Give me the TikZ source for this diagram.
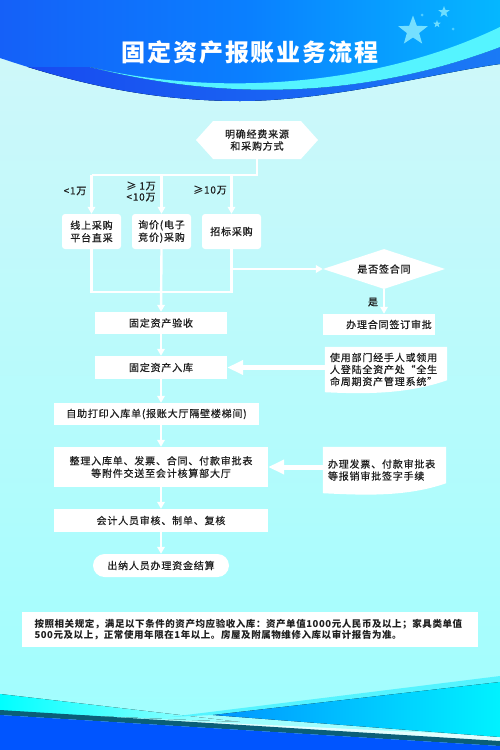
\documentclass[tikz,border=0pt]{standalone}
\usepackage{fontspec}
\newfontfamily\cjk[LetterSpace=8,FakeBold=0.5]{Noto Sans CJK SC}
\newfontfamily\cjkt[LetterSpace=8]{Noto Sans CJK SC}
\newfontfamily\cjkn[LetterSpace=6]{Noto Sans CJK SC}
\usetikzlibrary{shapes.geometric,shapes.symbols,arrows.meta}
\definecolor{txt}{HTML}{1E1E1E}
\definecolor{hA}{HTML}{2040F0}
\definecolor{hB}{HTML}{0A80FF}
\definecolor{hC}{HTML}{00EEFF}
\definecolor{bgT}{HTML}{D2F7F9}
\definecolor{bgB}{HTML}{9FFEFE}
\definecolor{swl}{HTML}{55F4FF}
\definecolor{bandL}{HTML}{1848F0}
\definecolor{bandR}{HTML}{1A7AF5}
\definecolor{starc}{HTML}{9AF4FF}
\definecolor{deepblue}{HTML}{0055FF}
\definecolor{teal}{HTML}{0A5F78}
\definecolor{cyanL}{HTML}{00FFFF}
\definecolor{cyanF}{HTML}{B0FFFF}
\definecolor{triL}{HTML}{0094FF}
\definecolor{triR}{HTML}{00F2FF}
\pgfdeclarehorizontalshading{hdr}{100bp}{color(0bp)=(hA); color(50bp)=(hB); color(100bp)=(hC)}
\pgfdeclarelayer{bg}
\pgfdeclarelayer{shp}
\pgfsetlayers{bg,shp,main}
\begin{document}
\begin{tikzpicture}[x=1pt,y=-1pt,
  boxs/.style={fill=white, text=txt, font=\cjk\fontsize{10}{12.5}\selectfont, align=center, inner sep=0pt},
  rboxs/.style={boxs, rounded corners=3pt},
  docs/.style={text=txt, font=\cjk\fontsize{10}{12}\selectfont, align=left, inner sep=0pt},
  lin/.style={draw=white, line width=2.4pt},
  arr/.style={lin, -{Triangle[width=7.5pt,length=7pt]}},
  bigarr/.style={draw=white, line width=5pt, -{Triangle[width=14pt,length=16pt]}},
  lab/.style={text=txt, font=\cjk\fontsize{10}{11}\selectfont, align=center, inner sep=0pt},
  starn/.style={star, star points=5, star point ratio=2.4, fill=starc, draw=none, inner sep=0pt}
]
\useasboundingbox (0,0) rectangle (500,750);
\begin{pgfonlayer}{bg}
  % page background
  \fill[top color=bgT, bottom color=bgB] (0,0) rectangle (500,750);
  % header
  \path[shading=hdr] (0,0) -- (500,0) -- (500,64) .. controls (440,72) and (330,101) .. (240,101) .. controls (140,101) and (60,78) .. (0,58) -- cycle;
  \begin{scope}
    \clip (0,0) -- (500,0) -- (500,64) .. controls (440,72) and (330,101) .. (240,101) .. controls (140,101) and (60,78) .. (0,58) -- cycle;
    \fill[left color=bandL, right color=bandR] (90,67) .. controls (220,100) and (360,100) .. (500,47) -- (500,120) -- (0,120) -- (0,67) -- cycle;
  \end{scope}
  \fill[swl] (90,67) .. controls (220,98) and (380,85) .. (500,27) -- (500,47) .. controls (360,100) and (220,100) .. (90,67) -- cycle;
  % bottom decoration
  \fill[left color=cyanL, right color=cyanF] (0,694) -- (240,722) -- (0,712) -- cycle;
  \fill[white, opacity=0.7] (120,718) -- (500,736) -- (500,742) -- cycle;
  \fill[swl] (170,717) -- (500,676) -- (500,683) -- (213,715) -- cycle;
  \fill[left color=triL, right color=triR] (213,715) -- (500,682) -- (500,737) -- cycle;
  \fill[teal] (0,710) -- (500,741) -- (500,746) -- (0,715) -- cycle;
  \fill[deepblue] (0,715) -- (500,746) -- (500,750) -- (0,750) -- cycle;
\end{pgfonlayer}

% stars
\node[starn, minimum size=31pt, opacity=0.75] (s1) at (413,31) {};
\node[starn, minimum size=12pt, opacity=0.7] (s2) at (444,12) {};
\node[starn, minimum size=8pt, opacity=0.7] (s3) at (437,24) {};
\node[circle, fill=starc, opacity=0.5, inner sep=0pt, minimum size=3pt] (d1) at (422,15) {};
\node[circle, fill=starc, opacity=0.5, inner sep=0pt, minimum size=3pt] (d2) at (453,29) {};

% title
\node[text=white, font=\cjkt\bfseries\fontsize{24}{26}\selectfont, inner sep=0pt] (title) at (250,52) {固定资产报账业务流程};

% hexagon
\node[boxs, signal, signal to=west and east, signal pointer angle=96, minimum width=122pt, minimum height=38pt, font=\cjk\fontsize{10}{12}\selectfont] (hex) at (257,140) {明确经费来源\\和采购方式};

% purchase boxes
\node[rboxs, minimum width=59pt, minimum height=35pt] (b1) at (91.5,231.5) {线上采购\\平台直采};
\node[rboxs, minimum width=59pt, minimum height=35pt] (b2) at (161.5,231.5) {询价(电子\\竞价)采购};
\node[rboxs, minimum width=59pt, minimum height=35pt] (b3) at (231.5,231.5) {招标采购};

% labels
\node[lab] (l1) at (75,191) {<1万};
\node[lab] (l2) at (141,191.5) {≥ 1万\\<10万};
\node[lab] (l3) at (210,190) {≥10万};

% main column
\node[boxs, minimum width=132pt, minimum height=22pt] (ys) at (161,323) {固定资产验收};
\node[boxs, minimum width=132pt, minimum height=23pt] (rk) at (161,367.5) {固定资产入库};
\node[boxs, minimum width=205pt, minimum height=22pt] (zz) at (156.5,414) {自助打印入库单(报账大厅隔壁楼梯间)};
\node[boxs, minimum width=214pt, minimum height=40pt] (zl) at (161,467) {整理入库单、发票、合同、付款审批表\\等附件交送至会计核算部大厅};
\node[boxs, minimum width=214pt, minimum height=23pt] (kj) at (161,520.5) {会计人员审核、制单、复核};
\node[boxs, rounded corners=11.5pt, minimum width=136pt, minimum height=23pt] (cn) at (161,565.5) {出纳人员办理资金结算};

% right column
\node[boxs, diamond, minimum width=122pt, minimum height=40pt, aspect=3] (dia) at (384,269) {是否签合同};
\node[lab] (yes) at (373,302) {是};
\node[boxs, minimum width=112pt, minimum height=21pt] (ht) at (379,324.5) {\hspace*{20pt}办理合同签订审批};
\node[docs, minimum width=122pt, minimum height=45pt, text width=112pt] (doc1) at (386,369.5) {使用部门经手人或领用\\人登陆全资产处“全生\\命周期资产管理系统”};
\node[docs, minimum width=123pt, minimum height=46pt, text width=113pt] (doc2) at (384.5,470) {办理发票、付款审批表\\等报销审批签字手续};

\begin{pgfonlayer}{shp}
  \fill[white] (doc1.north west) -- (doc1.north east) -- ([yshift=12pt]doc1.south east) .. controls +(-40,14) and +(40,2) .. (doc1.south west) -- cycle;
  \fill[white] (doc2.north west) -- (doc2.north east) -- ([yshift=10pt]doc2.south east) .. controls +(-40,14) and +(40,2) .. (doc2.south west) -- cycle;
\end{pgfonlayer}

% note
\node[fill=white, text=txt, font=\cjkn\bfseries\fontsize{9.5}{11.5}\selectfont, align=left, inner sep=0pt, minimum width=456pt, minimum height=35pt, text width=431pt] (note) at (250,629.5) {按照相关规定，满足以下条件的资产均应验收入库：资产单值1000元人民币及以上；家具类单值\\500元及以上，正常使用年限在1年以上。房屋及附属物维修入库以审计报告为准。};

% connectors
\coordinate (jt) at (0,175);
\coordinate (jb) at (0,292);
\draw[lin] (hex.south) -- (hex.south |- jt) -- (b1.north |- jt);
\draw[arr] (b1.north |- jt) -- (b1.north);
\draw[arr] (b2.north |- jt) -- (b2.north);
\draw[arr] (b3.north |- jt) -- (b3.north);
\draw[lin] (b1.south) -- (b1.south |- jb) -- (b3.south |- jb) -- (b3.south);
\draw[arr] (b2.south) -- (ys.north);
\draw[arr] (b3.south |- dia.west) -- (dia.west);
\draw[arr] (dia.south) -- (dia.south |- ht.north);
\draw[arr] (ys.south) -- (rk.north);
\draw[arr] (rk.south) -- (rk.south |- zz.north);
\draw[arr] (rk.south |- zz.south) -- (zl.north);
\draw[arr] (zl.south) -- (kj.north);
\draw[arr] (kj.south) -- (cn.north);
\draw[bigarr] (doc1.west |- rk) -- (rk.east);
\draw[bigarr] (doc2.west |- zl) -- (zl.east);
\end{tikzpicture}
\end{document}
